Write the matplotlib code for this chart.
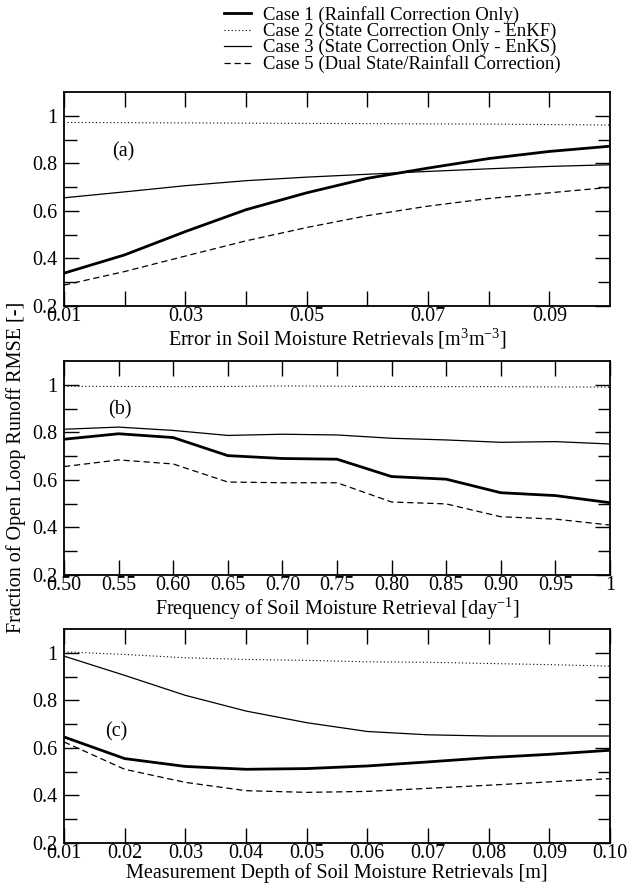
import matplotlib
matplotlib.use("Agg")
import matplotlib.pyplot as plt
from matplotlib.ticker import FixedLocator

plt.rcParams['font.family'] = ['Liberation Serif', 'DejaVu Serif']
plt.rcParams['mathtext.fontset'] = 'stix'

# (a) error in soil moisture retrievals
err = [0.01, 0.02, 0.03, 0.04, 0.05, 0.06, 0.07, 0.08, 0.09, 0.10]
a_case1 = [0.338, 0.415, 0.513, 0.605, 0.676, 0.737, 0.780, 0.820, 0.850, 0.872]
a_case2 = [0.972, 0.971, 0.970, 0.969, 0.968, 0.967, 0.966, 0.965, 0.963, 0.961]
a_case3 = [0.655, 0.680, 0.706, 0.727, 0.742, 0.754, 0.766, 0.777, 0.787, 0.794]
a_case5 = [0.288, 0.345, 0.410, 0.474, 0.530, 0.580, 0.620, 0.652, 0.676, 0.699]

# (b) frequency of retrieval
freq = [0.50, 0.55, 0.60, 0.65, 0.70, 0.75, 0.80, 0.85, 0.90, 0.95, 1.00]
b_case1 = [0.771, 0.794, 0.778, 0.702, 0.690, 0.687, 0.614, 0.603, 0.546, 0.534, 0.504]
b_case2 = [0.994, 0.993, 0.992, 0.993, 0.995, 0.994, 0.993, 0.992, 0.992, 0.991, 0.990]
b_case3 = [0.813, 0.822, 0.808, 0.787, 0.792, 0.789, 0.775, 0.768, 0.758, 0.761, 0.751]
b_case5 = [0.656, 0.684, 0.667, 0.591, 0.588, 0.588, 0.507, 0.499, 0.445, 0.435, 0.410]

# (c) measurement depth
depth = [0.01, 0.02, 0.03, 0.04, 0.05, 0.06, 0.07, 0.08, 0.09, 0.10]
c_case1 = [0.646, 0.555, 0.522, 0.510, 0.513, 0.524, 0.541, 0.559, 0.573, 0.590]
c_case2 = [1.004, 0.993, 0.979, 0.972, 0.968, 0.962, 0.960, 0.955, 0.950, 0.944]
c_case3 = [0.986, 0.905, 0.821, 0.755, 0.706, 0.669, 0.655, 0.650, 0.650, 0.650]
c_case5 = [0.625, 0.510, 0.455, 0.420, 0.413, 0.417, 0.430, 0.443, 0.457, 0.471]

labels = ['Case 1 (Rainfall Correction Only)',
          'Case 2 (State Correction Only - EnKF)',
          'Case 3 (State Correction Only - EnKS)',
          'Case 5 (Dual State/Rainfall Correction)']

yticks = [0.2, 0.4, 0.6, 0.8, 1.0]
yticklabels = ['0.2', '0.4', '0.6', '0.8', '1']

fig = plt.figure(figsize=(6.36, 8.9), dpi=100)
W, H = 636.0, 890.0
left, width = 64 / W, 546 / W
ax_a = fig.add_axes([left, 1 - 306 / H, width, 214 / H])
ax_b = fig.add_axes([left, 1 - 575 / H, width, 214 / H])
ax_c = fig.add_axes([left, 1 - 843 / H, width, 214 / H])


def dibuja(ax, x, c1, c2, c3, c5):
    l1, = ax.plot(x, c1, color='black', lw=2.0)
    l2, = ax.plot(x, c2, color='black', lw=0.8, linestyle=(0, (1, 2.2)))
    l3, = ax.plot(x, c3, color='black', lw=0.9)
    l5, = ax.plot(x, c5, color='black', lw=0.9, linestyle=(0, (5, 3)))
    ax.set_ylim(0.2, 1.1)
    ax.set_yticks(yticks)
    ax.set_yticklabels(yticklabels)
    ax.yaxis.set_minor_locator(FixedLocator([0.3, 0.5, 0.7, 0.9]))
    ax.tick_params(which='both', direction='in', top=True, right=True,
                   labelsize=14.5, width=1.0)
    ax.tick_params(which='major', length=10.5)
    ax.tick_params(which='minor', length=9)
    ax.tick_params(axis='x', pad=1)
    ax.tick_params(axis='y', pad=5)
    for s in ax.spines.values():
        s.set_linewidth(1.3)
    return [l1, l2, l3, l5]


handles = dibuja(ax_a, err, a_case1, a_case2, a_case3, a_case5)
ax_a.set_xlim(0.01, 0.10)
ax_a.set_xticks([0.01, 0.03, 0.05, 0.07, 0.09])
ax_a.set_xticklabels(['0.01', '0.03', '0.05', '0.07', '0.09'])
ax_a.xaxis.set_minor_locator(FixedLocator([0.02, 0.04, 0.06, 0.08]))
ax_a.tick_params(axis='x', which='minor', length=10.5)
ax_a.set_xlabel(r'Error in Soil Moisture Retrievals [$\mathregular{m^3m^{-3}}$]',
                fontsize=14.5, labelpad=0)
ax_a.text(0.0179, 0.848, '(a)', fontsize=14.5, va='center')

dibuja(ax_b, freq, b_case1, b_case2, b_case3, b_case5)
ax_b.set_xlim(0.50, 1.0)
ax_b.set_xticks(freq)
ax_b.set_xticklabels(['0.50', '0.55', '0.60', '0.65', '0.70', '0.75',
                      '0.80', '0.85', '0.90', '0.95', '1'])
ax_b.set_xlabel(r'Frequency of Soil Moisture Retrieval [$\mathregular{day^{-1}}$]',
                fontsize=14.5, labelpad=0)
ax_b.text(0.540, 0.893, '(b)', fontsize=14.5, va='center')

dibuja(ax_c, depth, c_case1, c_case2, c_case3, c_case5)
ax_c.set_xlim(0.01, 0.10)
ax_c.set_xticks(depth)
ax_c.set_xticklabels(['0.01', '0.02', '0.03', '0.04', '0.05', '0.06',
                      '0.07', '0.08', '0.09', '0.10'])
ax_c.set_xlabel('Measurement Depth of Soil Moisture Retrievals [m]',
                fontsize=14.5, labelpad=0)
ax_c.text(0.0168, 0.667, '(c)', fontsize=14.5, va='center')

fig.text(16 / W, 1 - 467 / H, 'Fraction of Open Loop Runoff RMSE [-]',
         rotation=90, fontsize=14.5, ha='center', va='center')

fig.legend(handles, labels, loc='upper left', bbox_to_anchor=(224 / W, 1 - 6 / H),
           frameon=False, fontsize=13.5, handlelength=1.45, handletextpad=0.65,
           labelspacing=-0.06, borderaxespad=0, borderpad=0)

fig.savefig('out.png', dpi=100)
